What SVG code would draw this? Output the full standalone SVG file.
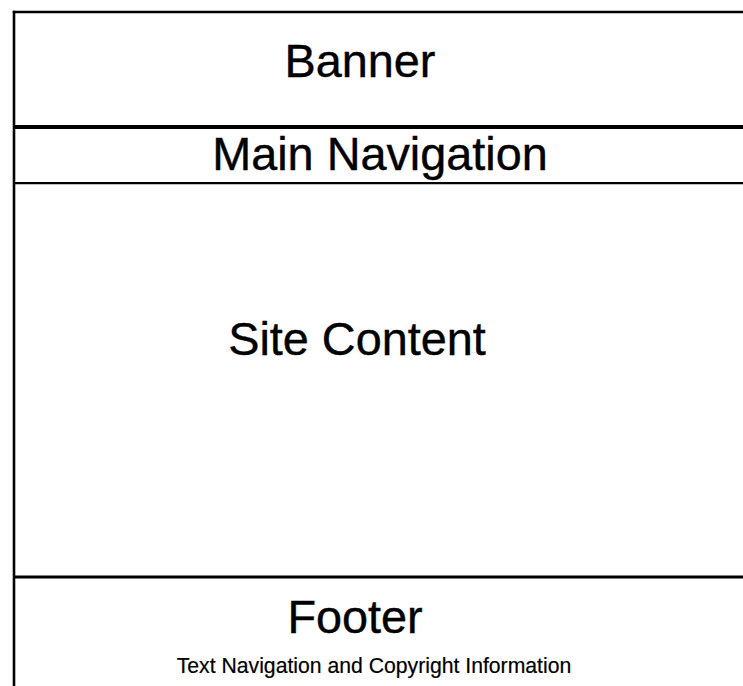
<svg xmlns="http://www.w3.org/2000/svg" width="743" height="686" viewBox="0 0 743 686">
<style>
.ln{stroke:#000;fill:none}
.t{font-family:"Liberation Sans",Arial,sans-serif;fill:#000;text-anchor:middle;stroke:#000;stroke-width:0.4}
.big{font-size:46.8px}
.small{font-size:21.2px;stroke-width:0.2}
</style>
<rect width="743" height="686" fill="#fff"/>
<g id="connectors">
<line class="ln" x1="12.8" y1="12" x2="743" y2="12" stroke-width="2.6"/>
<line class="ln" x1="14" y1="10.8" x2="14" y2="686" stroke-width="2.6"/>
</g>
<g id="banner">
<line class="ln" x1="14" y1="127" x2="743" y2="127" stroke-width="4"/>
<text class="t big" x="360" y="77">Banner</text>
</g>
<g id="main-navigation">
<line class="ln" x1="14" y1="183.2" x2="743" y2="183.2" stroke-width="2.2"/>
<text class="t big" x="380" y="169.5">Main Navigation</text>
</g>
<g id="site-content">
<text class="t big" x="357" y="354.5">Site Content</text>
</g>
<g id="footer">
<line class="ln" x1="14" y1="577" x2="743" y2="577" stroke-width="3"/>
<text class="t big" x="355" y="633">Footer</text>
<text class="t small" x="374" y="673">Text Navigation and Copyright Information</text>
</g>
</svg>
